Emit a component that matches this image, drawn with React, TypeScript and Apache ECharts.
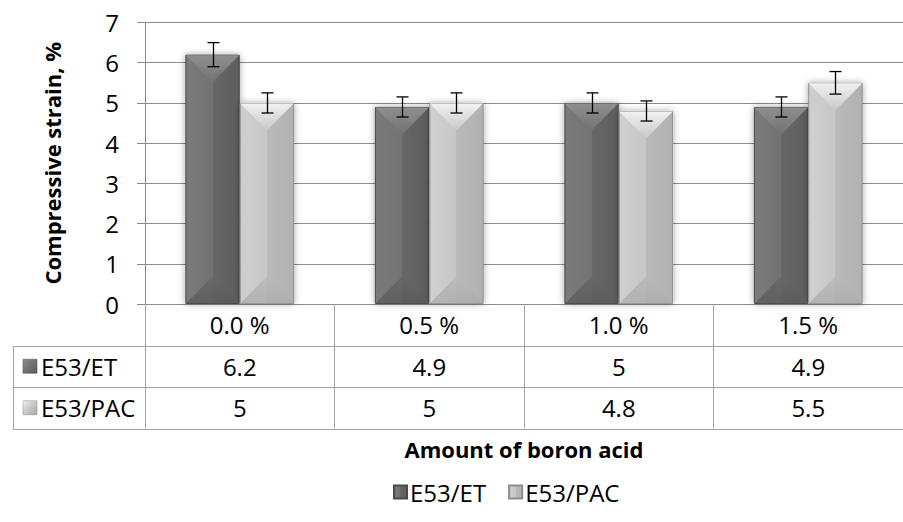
import React, { useEffect, useRef } from "react";
import * as echarts from "echarts";

const categories = ["0.0 %", "0.5 %", "1.0 %", "1.5 %"];
const seriesNames = ["E53/ET", "E53/PAC"];
const etValues = [6.2, 4.9, 5, 4.9];
const pacValues = [5, 5, 4.8, 5.5];
const etErrors = [0.3, 0.25, 0.25, 0.25];
const pacErrors = [0.25, 0.25, 0.25, 0.28];
const yTitle = "Compressive strain, %";
const xTitle = "Amount of boron acid";

const FONT = "'Open Sans', sans-serif";
const GRID_LEFT = 145;
const GRID_TOP = 22.5;
const GRID_W = 765.6;
const GRID_H = 281.5;
const ROW_H = 41.5;
const BAR_FRAC = 0.287;
const LINE_COLOR = "#8c8c8c";
const TABLE_COLOR = "#a3a3a3";
const TXT = 24;
const TITLE = 22;

const palettes = [
  {
    sides: ["#7b7b7b", "#727272", "#676767", "#5e5e5e"],
    top: "#8f8f8f",
    bottom: "#5a5a5a",
    border: "#4a4a4a",
  },
  {
    sides: ["#d0d0d0", "#c7c7c7", "#bababa", "#b1b1b1"],
    top: "#f2f2f2",
    bottom: "#ababab",
    border: "#8d8d8d",
  },
];

function sideGradient(p: any) {
  return {
    type: "linear",
    x: 0,
    y: 0,
    x2: 1,
    y2: 0,
    colorStops: [
      { offset: 0, color: p.sides[0] },
      { offset: 0.5, color: p.sides[1] },
      { offset: 0.5, color: p.sides[2] },
      { offset: 1, color: p.sides[3] },
    ],
  };
}

export default function App() {
  const ref = useRef<HTMLDivElement>(null);

  useEffect(() => {
    if (!ref.current) return;
    const chart = echarts.init(ref.current, null, { renderer: "svg" });

    const valueSets = [etValues, pacValues];
    const errorSets = [etErrors, pacErrors];

    const barSeries = seriesNames.map((name, s) => ({
      type: "bar",
      name,
      data: valueSets[s],
      barWidth: (BAR_FRAC * 100).toFixed(1) + "%",
      barGap: "0%",
      z: 2,
      itemStyle: {
        color: sideGradient(palettes[s]),
        borderColor: palettes[s].border,
        borderWidth: 1,
        shadowBlur: 7,
        shadowColor: "rgba(0,0,0,0.35)",
      },
    }));

    const bevelSeries = seriesNames.map((name, s) => ({
      type: "custom",
      name: name + " bevel",
      silent: true,
      z: 3,
      data: valueSets[s].map((v, i) => [i, v]),
      renderItem: (params: any, api: any) => {
        const i = api.value(0);
        const v = api.value(1);
        const band = api.size([1, 0])[0];
        const bw = band * BAR_FRAC;
        const c = api.coord([i, v]);
        const b = api.coord([i, 0]);
        const xl = c[0] + (s === 0 ? -bw : 0) + 0.5;
        const xr = xl + bw - 1;
        const top = c[1] + 0.5;
        const bot = b[1] - 0.5;
        const d = Math.min(bw / 2, (bot - top) / 2);
        const mid = (xl + xr) / 2;
        return {
          type: "group",
          children: [
            {
              type: "polygon",
              shape: { points: [[xl, top], [xr, top], [mid, top + d]] },
              style: {
                fill: {
                  type: "linear", x: 0, y: 0, x2: 0, y2: 1,
                  colorStops: [
                    { offset: 0, color: palettes[s].top },
                    { offset: 1, color: palettes[s].sides[1] },
                  ],
                },
              },
            },
            {
              type: "polygon",
              shape: { points: [[xl, bot], [xr, bot], [mid, bot - d]] },
              style: {
                fill: {
                  type: "linear", x: 0, y: 0, x2: 0, y2: 1,
                  colorStops: [
                    { offset: 0, color: palettes[s].sides[2] },
                    { offset: 1, color: palettes[s].bottom },
                  ],
                },
                opacity: 0.8,
              },
            },
          ],
        };
      },
    }));

    const errorSeries = seriesNames.map((name, s) => ({
      type: "custom",
      name: name + " error",
      silent: true,
      z: 4,
      data: valueSets[s].map((v, i) => [i, v - errorSets[s][i], v + errorSets[s][i]]),
      renderItem: (params: any, api: any) => {
        const i = api.value(0);
        const band = api.size([1, 0])[0];
        const bw = band * BAR_FRAC;
        const lo = api.coord([i, api.value(1)]);
        const hi = api.coord([i, api.value(2)]);
        const x = Math.round(lo[0] + (s === 0 ? -bw / 2 : bw / 2)) + 0.5;
        const cap = 6;
        const st = { stroke: "#000", lineWidth: 1.3 };
        return {
          type: "group",
          children: [
            { type: "line", shape: { x1: x, y1: lo[1], x2: x, y2: hi[1] }, style: st },
            { type: "line", shape: { x1: x - cap, y1: lo[1], x2: x + cap, y2: lo[1] }, style: st },
            { type: "line", shape: { x1: x - cap, y1: hi[1], x2: x + cap, y2: hi[1] }, style: st },
          ],
        };
      },
    }));

    const row1 = GRID_TOP + GRID_H + ROW_H;
    const tableBottom = GRID_TOP + GRID_H + 3 * ROW_H;
    const graphics: any[] = [];
    [1, 2, 3].forEach((r) => {
      const y = Math.round(GRID_TOP + GRID_H + r * ROW_H) + 0.5;
      graphics.push({
        type: "line",
        shape: { x1: 13, y1: y, x2: 910, y2: y },
        style: { stroke: TABLE_COLOR, lineWidth: 1 },
        silent: true,
      });
    });
    graphics.push({
      type: "line",
      shape: { x1: 13.5, y1: Math.round(row1) + 0.5, x2: 13.5, y2: Math.round(tableBottom) + 0.5 },
      style: { stroke: TABLE_COLOR, lineWidth: 1 },
      silent: true,
    });
    seriesNames.forEach((name, s) => {
      const cy = row1 + (s + 0.5) * ROW_H;
      graphics.push({
        type: "rect",
        shape: { x: 23, y: cy - 7, width: 14, height: 14 },
        style: {
          fill: {
            type: "linear", x: 0, y: 0, x2: 1, y2: 1,
            colorStops: [
              { offset: 0, color: palettes[s].top },
              { offset: 0.5, color: palettes[s].sides[1] },
              { offset: 1, color: palettes[s].bottom },
            ],
          },
          stroke: palettes[s].border,
          lineWidth: 0.5,
        },
        silent: true,
      });
      graphics.push({
        type: "text",
        x: 41,
        y: cy,
        style: {
          text: name,
          fontSize: TXT,
          fontFamily: FONT,
          fill: "#000",
          verticalAlign: "middle",
          align: "left",
        },
        silent: true,
      });
    });

    const option: any = {
      animation: false,
      backgroundColor: "#fff",
      textStyle: { fontFamily: FONT },
      grid: { left: GRID_LEFT, top: GRID_TOP, width: GRID_W, height: GRID_H, containLabel: false },
      legend: {
        data: seriesNames,
        left: 388,
        top: 475,
        icon: "rect",
        itemWidth: 13,
        itemHeight: 13,
        itemGap: 22,
        textStyle: { fontSize: TXT, fontFamily: FONT, color: "#000", padding: [0, 0, 0, -2] },
      },
      xAxis: {
        type: "category",
        data: categories,
        boundaryGap: true,
        name: xTitle,
        nameLocation: "middle",
        nameGap: 134,
        nameTextStyle: { fontSize: TITLE, fontWeight: "bold", fontFamily: FONT, color: "#000" },
        axisLine: { show: true, lineStyle: { color: LINE_COLOR, width: 1 } },
        axisTick: { show: true, length: 3 * ROW_H, interval: 0, lineStyle: { color: TABLE_COLOR, width: 1 } },
        axisLabel: {
          interval: 0,
          margin: 0,
          formatter: (value: string, index: number) =>
            `{c|${value}}\n{c|${etValues[index]}}\n{c|${pacValues[index]}}`,
          rich: {
            c: { fontSize: TXT, lineHeight: ROW_H, fontFamily: FONT, color: "#000" },
          },
        },
        splitLine: { show: false },
      },
      yAxis: {
        type: "value",
        min: 0,
        max: 7,
        interval: 1,
        name: yTitle,
        nameLocation: "middle",
        nameGap: 82,
        nameTextStyle: { fontSize: TITLE, fontWeight: "bold", fontFamily: FONT, color: "#000" },
        axisLine: { show: true, lineStyle: { color: LINE_COLOR, width: 1 } },
        axisTick: { show: true, length: 8, lineStyle: { color: LINE_COLOR } },
        axisLabel: { fontSize: TXT, fontFamily: FONT, color: "#000", margin: 26 },
        splitLine: { show: true, lineStyle: { color: LINE_COLOR, width: 1 } },
      },
      series: [...barSeries, ...bevelSeries, ...errorSeries],
      graphic: graphics,
    };

    chart.setOption(option);
    return () => chart.dispose();
  }, []);

  return (
    <div
      ref={ref}
      style={{ position: "fixed", left: 0, top: 0, width: 903, height: 522, background: "#fff" }}
    />
  );
}
